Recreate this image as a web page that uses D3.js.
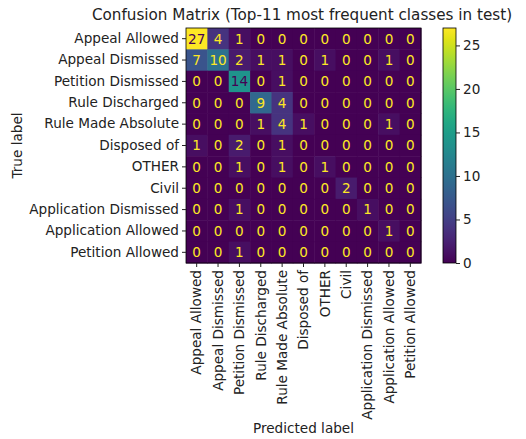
<!DOCTYPE html>
<html>
<head>
<meta charset="utf-8">
<script src="https://cdn.jsdelivr.net/npm/d3@7"></script>
<style>
  body { margin: 0; background: #fff; }
  text { font-family: "DejaVu Sans", sans-serif; }
</style>
</head>
<body>
<div id="chart"></div>
<script>
// class names, same order for rows (true) and columns (predicted)
const classes = [
    "Appeal Allowed", "Appeal Dismissed", "Petition Dismissed", "Rule Discharged",
    "Rule Made Absolute", "Disposed of", "OTHER", "Civil",
    "Application Dismissed", "Application Allowed", "Petition Allowed"
];

// counts, one row per true label
const counts = [
    [27, 4, 1, 0, 0, 0, 0, 0, 0, 0, 0],
    [7, 10, 2, 1, 1, 0, 1, 0, 0, 1, 0],
    [0, 0, 14, 0, 1, 0, 0, 0, 0, 0, 0],
    [0, 0, 0, 9, 4, 0, 0, 0, 0, 0, 0],
    [0, 0, 0, 1, 4, 1, 0, 0, 0, 1, 0],
    [1, 0, 2, 0, 1, 0, 0, 0, 0, 0, 0],
    [0, 0, 1, 0, 1, 0, 1, 0, 0, 0, 0],
    [0, 0, 0, 0, 0, 0, 0, 2, 0, 0, 0],
    [0, 0, 1, 0, 0, 0, 0, 0, 1, 0, 0],
    [0, 0, 0, 0, 0, 0, 0, 0, 0, 1, 0],
    [0, 0, 1, 0, 0, 0, 0, 0, 0, 0, 0]
];

const colorTicks = [0, 5, 10, 15, 20, 25];

const width = 526;
const height = 439;
const margin = { top: 28, left: 186 };
const size = 235;
const fs = "13.6px";

const cells = [];
counts.forEach((row, i) => row.forEach((v, j) => cells.push({ t: classes[i], p: classes[j], v: v })));

const maxV = d3.max(cells, d => d.v);
const minV = d3.min(cells, d => d.v);
const color = d3.scaleSequential(d3.interpolateViridis).domain([minV, maxV]);
const thresh = (maxV + minV) / 2;

const xScale = d3.scaleBand().domain(classes).range([0, size]);
const yScale = d3.scaleBand().domain(classes).range([0, size]);

const svg = d3.select("#chart")
    .append("svg")
    .attr("width", width)
    .attr("height", height);

// title
svg.append("text")
    .attr("x", 302)
    .attr("y", 20)
    .attr("text-anchor", "middle")
    .style("font-size", "15.2px")
    .attr("fill", "#222")
    .text("Confusion Matrix (Top-11 most frequent classes in test)");

const inner = svg.append("g")
    .attr("transform", `translate(${margin.left},${margin.top})`);

// cells
inner.selectAll(".cell")
    .data(cells)
    .join("rect")
        .attr("class", "cell")
        .attr("x", d => xScale(d.p))
        .attr("y", d => yScale(d.t))
        .attr("width", xScale.bandwidth() + 0.5)
        .attr("height", yScale.bandwidth() + 0.5)
        .attr("fill", d => color(d.v));

inner.selectAll(".val")
    .data(cells)
    .join("text")
        .attr("class", "val")
        .attr("x", d => xScale(d.p) + xScale.bandwidth() / 2)
        .attr("y", d => yScale(d.t) + yScale.bandwidth() / 2)
        .attr("dy", "0.36em")
        .attr("text-anchor", "middle")
        .style("font-size", fs)
        .attr("fill", d => d.v > thresh ? color(minV) : color(maxV))
        .text(d => d.v);

inner.append("rect")
    .attr("width", size)
    .attr("height", size)
    .attr("fill", "none")
    .attr("stroke", "#000")
    .attr("stroke-width", 0.8);

// axes
const xAxis = inner.append("g")
    .attr("transform", `translate(0,${size})`)
    .call(d3.axisBottom(xScale).tickSize(4).tickPadding(3));
xAxis.selectAll("text")
    .attr("transform", "rotate(-90)")
    .attr("text-anchor", "end")
    .attr("x", -7)
    .attr("y", 0)
    .attr("dy", "0.35em")
    .style("font-size", fs)
    .attr("fill", "#222");

const yAxis = inner.append("g")
    .call(d3.axisLeft(yScale).tickSize(4).tickPadding(3));
yAxis.selectAll("text")
    .style("font-size", fs)
    .attr("fill", "#222");

[xAxis, yAxis].forEach(a => {
    a.select(".domain").remove();
    a.selectAll(".tick line").attr("stroke", "#222");
});

svg.append("text")
    .attr("x", margin.left + size / 2)
    .attr("y", 433)
    .attr("text-anchor", "middle")
    .style("font-size", fs)
    .attr("fill", "#222")
    .text("Predicted label");

svg.append("text")
    .attr("transform", `translate(22,${margin.top + size / 2}) rotate(-90)`)
    .attr("text-anchor", "middle")
    .style("font-size", fs)
    .attr("fill", "#222")
    .text("True label");

// colorbar
const cbX = 443;
const cbW = 13;
const cbScale = d3.scaleLinear().domain([minV, maxV]).range([margin.top + size, margin.top]);

const defs = svg.append("defs");
const grad = defs.append("linearGradient")
    .attr("id", "cbgrad")
    .attr("x1", 0).attr("y1", 1).attr("x2", 0).attr("y2", 0);
d3.range(0, 1.01, 0.05).forEach(t => {
    grad.append("stop")
        .attr("offset", t)
        .attr("stop-color", d3.interpolateViridis(t));
});

svg.append("rect")
    .attr("x", cbX)
    .attr("y", margin.top)
    .attr("width", cbW)
    .attr("height", size)
    .attr("fill", "url(#cbgrad)")
    .attr("stroke", "#000")
    .attr("stroke-width", 0.8);

const cbAxis = svg.append("g")
    .attr("transform", `translate(${cbX + cbW},0)`)
    .call(d3.axisRight(cbScale).tickValues(colorTicks).tickSize(4).tickPadding(3));
cbAxis.select(".domain").remove();
cbAxis.selectAll("text").style("font-size", fs).attr("fill", "#222");
cbAxis.selectAll(".tick line").attr("stroke", "#222");
</script>
</body>
</html>
